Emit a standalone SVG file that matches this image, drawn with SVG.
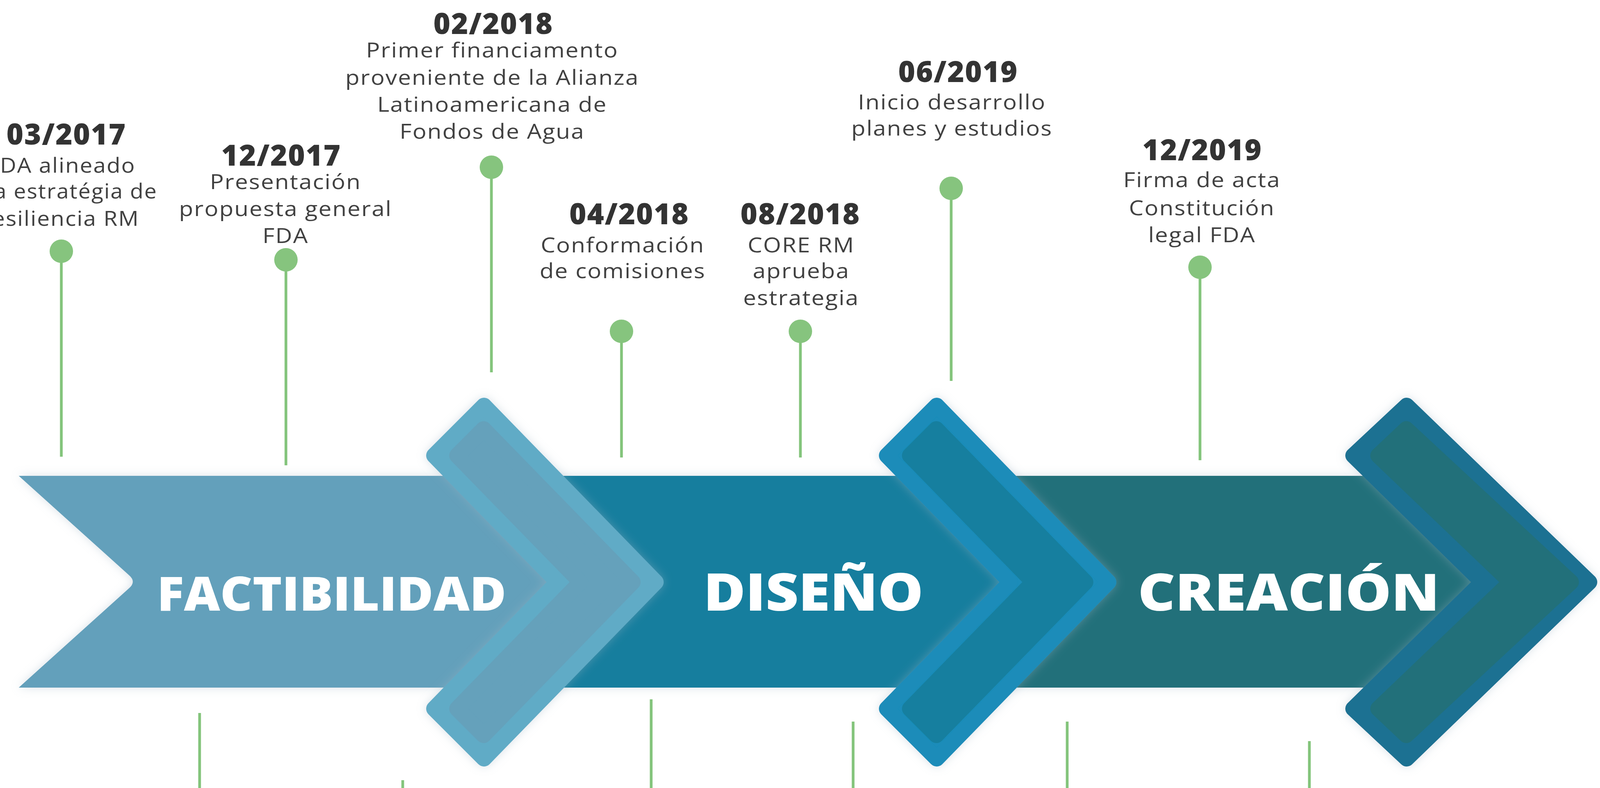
<svg xmlns="http://www.w3.org/2000/svg" width="4148" height="2017" viewBox="0 0 4148 2017">
<defs>
<style>
.date{font-family:"Open Sans","Liberation Sans",sans-serif;font-weight:800;font-size:74px;letter-spacing:2px;fill:#333333;text-anchor:middle}
.body{font-family:"Open Sans","Liberation Sans",sans-serif;font-weight:500;font-size:53px;letter-spacing:2px;fill:#414141;text-anchor:middle}
.phase{font-family:"Open Sans","Liberation Sans",sans-serif;font-weight:800;fill:#ffffff}
.stem{stroke:#83c47b;stroke-width:7;fill:none}
.dot{fill:#86c47e}
.b1{fill:#61abc6;stroke:#61abc6;stroke-width:40;stroke-linejoin:round}
.i1{fill:#65a1bb;stroke:#65a1bb;stroke-width:40;stroke-linejoin:round}
.b2{fill:#1a8cb9;stroke:#1a8cb9;stroke-width:40;stroke-linejoin:round}
.i2{fill:#177f9f;stroke:#177f9f;stroke-width:40;stroke-linejoin:round}
.b3{fill:#1c7192;stroke:#1c7192;stroke-width:40;stroke-linejoin:round}
.i3{fill:#21707a;stroke:#21707a;stroke-width:40;stroke-linejoin:round}
</style>
<filter id="halo" x="-10%" y="-20%" width="120%" height="140%">
<feGaussianBlur in="SourceAlpha" stdDeviation="12" result="b"/>
<feFlood flood-color="#9fb4c4" flood-opacity="0.4"/>
<feComposite in2="b" operator="in" result="s"/>
<feMerge><feMergeNode in="s"/><feMergeNode in="SourceGraphic"/></feMerge>
</filter>
</defs>
<rect width="4148" height="2017" fill="#ffffff"/>

<g id="connectors">
<line class="stem" x1="157" y1="643" x2="157" y2="1169"/>
<line class="stem" x1="732" y1="665" x2="732" y2="1191"/>
<line class="stem" x1="1258" y1="428" x2="1258" y2="953"/>
<line class="stem" x1="1591" y1="848" x2="1591" y2="1171"/>
<line class="stem" x1="2049" y1="848" x2="2049" y2="1171"/>
<line class="stem" x1="2435" y1="482" x2="2435" y2="975"/>
<line class="stem" x1="3072" y1="684" x2="3072" y2="1178"/>
<line class="stem" x1="511" y1="1825" x2="511" y2="2017"/>
<line class="stem" x1="1031" y1="1997" x2="1031" y2="2017"/>
<line class="stem" x1="1667" y1="1790" x2="1667" y2="2017"/>
<line class="stem" x1="2184" y1="1847" x2="2184" y2="2017"/>
<line class="stem" x1="2732" y1="1847" x2="2732" y2="2017"/>
<line class="stem" x1="3352" y1="1897" x2="3352" y2="2017"/>
<circle class="dot" cx="157" cy="643" r="30"/>
<circle class="dot" cx="732" cy="665" r="30"/>
<circle class="dot" cx="1258" cy="428" r="30"/>
<circle class="dot" cx="1591" cy="848" r="30"/>
<circle class="dot" cx="2049" cy="848" r="30"/>
<circle class="dot" cx="2435" cy="482" r="30"/>
<circle class="dot" cx="3072" cy="684" r="30"/>
</g>

<g id="band" filter="url(#halo)">
<polygon points="2500,1218 3631,1218 3915,1489 3631,1760 2500,1760" fill="#21707a"/>
<polygon points="1300,1218 2421,1218 2686,1489 2421,1760 1300,1760" fill="#167e9e"/>
<path d="M48,1218 L1262,1218 L1527,1489 L1262,1760 L48,1760 L330,1506 Q350,1489 330,1472 Z" fill="#64a0bb"/>
</g>

<g id="chevron1" filter="url(#halo)">
<polygon class="b1" points="1239,1038 1679,1490 1239,1942 1111,1814 1427,1490 1111,1166"/>
<polygon class="i1" points="1238,1098 1620,1490 1238,1882 1170,1814 1486,1490 1170,1166"/>
</g>
<g id="chevron2" filter="url(#halo)">
<polygon class="b2" points="2398,1038 2838,1490 2398,1942 2270,1814 2586,1490 2270,1166"/>
<polygon class="i2" points="2397,1098 2779,1490 2397,1882 2329,1814 2645,1490 2329,1166"/>
</g>
<g id="chevron3" filter="url(#halo)">
<polygon class="b3" points="3601,1038 4069,1490 3601,1942 3464,1814 3794,1490 3464,1166"/>
<polygon class="i3" points="3600,1098 4022,1490 3600,1882 3528,1814 3867,1490 3528,1166"/>
</g>

<g id="phase-factibilidad"><text class="phase" x="402" y="1563" font-size="120" textLength="894" lengthAdjust="spacingAndGlyphs">FACTIBILIDAD</text></g>
<g id="phase-diseno"><text class="phase" x="1801" y="1563" font-size="133" textLength="563" lengthAdjust="spacingAndGlyphs">DISEÑO</text></g>
<g id="phase-creacion"><text class="phase" x="2913" y="1563" font-size="131" textLength="772" lengthAdjust="spacingAndGlyphs">CREACIÓN</text></g>

<g id="event-2017-03">
<text class="date" x="170" y="370">03/2017</text>
<text class="body" style="text-anchor:start" x="0" y="442" textLength="347" lengthAdjust="spacingAndGlyphs">DA alineado</text>
<text class="body" style="text-anchor:start" x="-15" y="508" textLength="418" lengthAdjust="spacingAndGlyphs">a estratégia de</text>
<text class="body" style="text-anchor:start" x="-20" y="578" textLength="377" lengthAdjust="spacingAndGlyphs">esiliencia RM</text>
</g>
<g id="event-2017-12">
<text class="date" x="720" y="424">12/2017</text>
<g transform="translate(731,0) scale(1.12,1)">
<text class="body" x="0" y="484">Presentación</text>
<text class="body" x="0" y="553">propuesta general</text>
<text class="body" x="0" y="622">FDA</text>
</g>
</g>
<g id="event-2018-02">
<text class="date" x="1263" y="87">02/2018</text>
<g transform="translate(1260,0) scale(1.12,1)">
<text class="body" x="0" y="147">Primer financiamento</text>
<text class="body" x="0" y="217">proveniente de la Alianza</text>
<text class="body" x="0" y="286">Latinoamericana de</text>
<text class="body" x="0" y="355">Fondos de Agua</text>
</g>
</g>
<g id="event-2018-04">
<text class="date" x="1611" y="574">04/2018</text>
<g transform="translate(1594,0) scale(1.12,1)">
<text class="body" x="0" y="646">Conformación</text>
<text class="body" x="0" y="712">de comisiones</text>
</g>
</g>
<g id="event-2018-08">
<text class="date" x="2049" y="574">08/2018</text>
<g transform="translate(2051,0) scale(1.12,1)">
<text class="body" x="0" y="646">CORE RM</text>
<text class="body" x="0" y="712">aprueba</text>
<text class="body" x="0" y="781">estrategia</text>
</g>
</g>
<g id="event-2019-06">
<text class="date" x="2453" y="210">06/2019</text>
<g transform="translate(2437,0) scale(1.12,1)">
<text class="body" x="0" y="280">Inicio desarrollo</text>
<text class="body" x="0" y="347">planes y estudios</text>
</g>
</g>
<g id="event-2019-12">
<text class="date" x="3078" y="410">12/2019</text>
<g transform="translate(3077,0) scale(1.12,1)">
<text class="body" x="0" y="479">Firma de acta</text>
<text class="body" x="0" y="551">Constitución</text>
<text class="body" x="0" y="620">legal FDA</text>
</g>
</g>
</svg>
